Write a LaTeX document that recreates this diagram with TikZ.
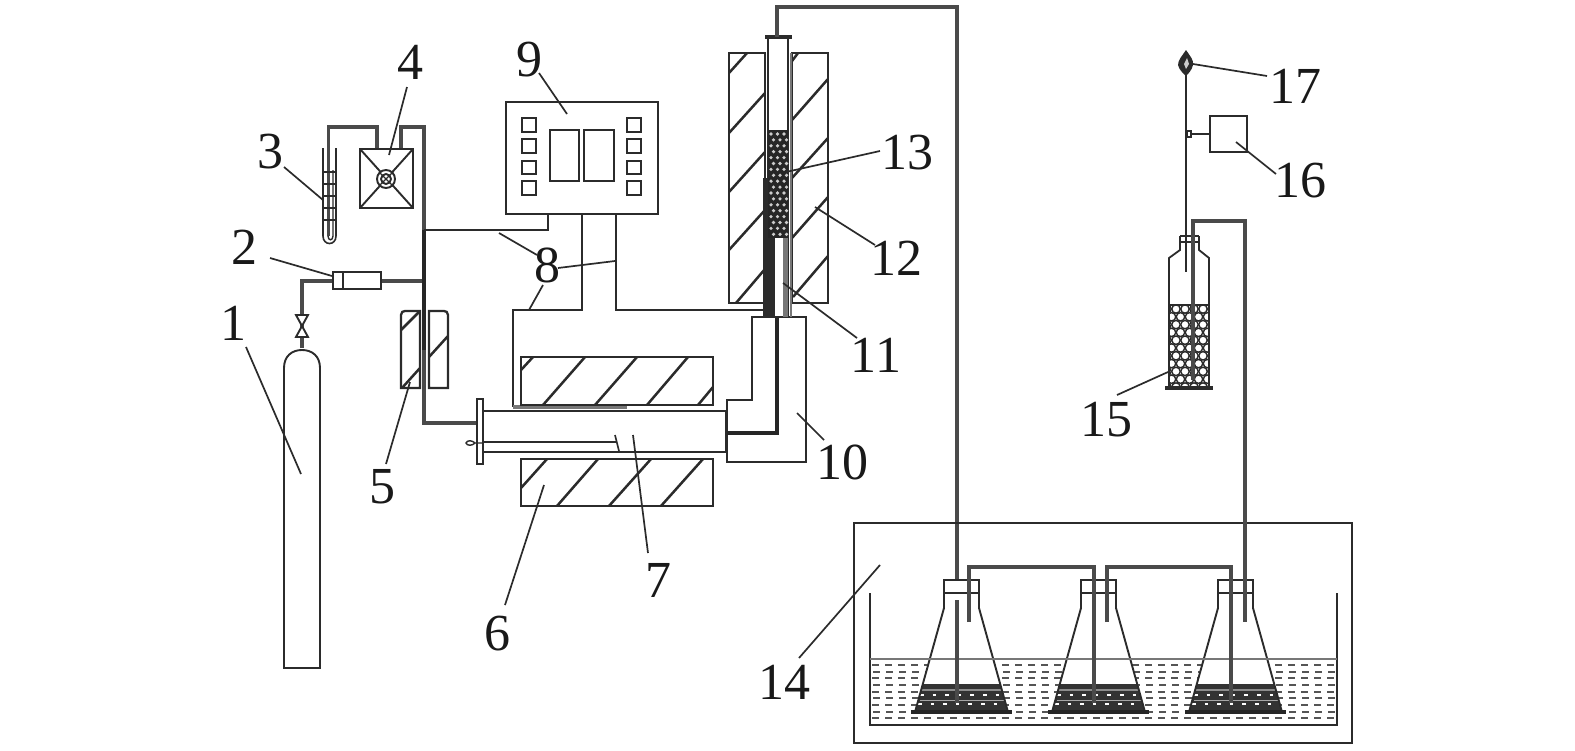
\documentclass[tikz,border=0pt]{standalone}
\usepackage{fontspec}
\setmainfont{Liberation Serif}
\definecolor{ink}{HTML}{2B2B2B}
\definecolor{pipegray}{HTML}{4A4A4A}
\definecolor{soft}{HTML}{777777}
\tikzset{
  thinl/.style={draw=ink,line width=0.95pt},
  hatch/.style={draw=ink,line width=1.25pt},
  pipe/.style={draw=pipegray,line width=2pt,line join=miter},
  blackpipe/.style={draw=black!85,line width=2.2pt},
  leader/.style={draw=ink,line width=0.85pt},
  num/.style={font=\fontsize{26}{30}\selectfont,text=black!90,inner sep=0pt}
}
\begin{document}
\begin{tikzpicture}[x=0.5pt,y=-0.5pt]
\useasboundingbox (0,0) rectangle (1575,750);
\fill[white] (0,0) rectangle (1575,750);

% --- 1 gas cylinder and valve
\draw[thinl] (284,668) -- (284,368) .. controls (284,356) and (292,350) .. (302,350)
  .. controls (312,350) and (320,356) .. (320,368) -- (320,668) -- cycle;
\draw[pipe] (302,348) -- (302,281) -- (333,281);
\draw[thinl,fill=white] (296,315) -- (308,315) -- (296,337) -- (308,337) -- cycle;
% --- 2 flow meter
\draw[pipe] (381,281) -- (424,281);
\draw[thinl,fill=white] (333,272) rectangle (381,289);
\draw[thinl] (343,272) -- (343,289);
% --- 3 thermometer
\draw[thinl,line width=0.8pt] (323,148) -- (323,236) .. controls (323,246) and (336,246) .. (336,236) -- (336,148);
\draw[pipe,line width=1.5pt] (328,236) -- (328,127);
\draw[pipe] (327,127) -- (377,127) -- (377,149);
\draw[thinl,line width=0.7pt] (328,236) .. controls (328,241) and (333,241) .. (333,236) -- (333,170);
\foreach \y in {172,184,196,208,220} \draw[thinl,line width=0.6pt] (323,\y) -- (336,\y);
% --- 4 pump
\draw[pipe] (401,149) -- (401,127) -- (424,127) -- (424,423) -- (478,423);
\draw[blackpipe] (424,230) -- (424,350);
\draw[thinl,line width=1.2pt] (360,149) rectangle (413,208);
\draw[thinl] (360,149) -- (413,208) (413,149) -- (360,208);
\draw[thinl,fill=white] (386,179) circle (9);
\draw[thinl] (386,179) circle (5);
\draw[thinl,line width=0.7pt] (379,172) -- (393,186) (393,172) -- (379,186);
% --- 5 preheater
\draw[thinl,line width=1.15pt] (401,388) -- (401,315) .. controls (401,312) and (403,311) .. (405,311) -- (420,311) -- (420,388) -- cycle;
\draw[thinl,line width=1.15pt] (429,388) -- (429,311) -- (444,311) .. controls (446,311) and (448,312) .. (448,315) -- (448,388) -- cycle;
\draw[hatch] (401,330) -- (419,312) (402,388) -- (420,368) (429,357) -- (448,336);
% --- 9 controller
\draw[thinl,line width=1.15pt] (506,102) rectangle (658,214);
\foreach \y/\z in {118/132,139/153,161/174,181/195}{
  \draw[thinl,line width=1.2pt] (522,\y) rectangle (536,\z);
  \draw[thinl,line width=1.2pt] (627,\y) rectangle (641,\z);
}
\draw[thinl] (550,130) rectangle (579,181);
\draw[thinl] (584,130) rectangle (614,181);
% --- wires
\draw[thinl] (424,230) -- (548,230) -- (548,214);
\draw[thinl] (582,214) -- (582,310) -- (513,310) -- (513,407);
\draw[thinl] (616,214) -- (616,310) -- (767,310);
\draw[draw=soft,line width=1.7pt] (513,407) -- (627,407);
% --- 6 furnace
\draw[thinl,line width=1.2pt] (521,357) rectangle (713,405);
\draw[hatch] (521,370) -- (533,357) (543,405) -- (585,357) (595,405) -- (637,357) (647,405) -- (688,357) (698,405) -- (713,387);
\draw[thinl,line width=1.2pt] (521,459) rectangle (713,506);
\draw[hatch] (521,488) -- (547,459) (557,506) -- (598,459) (609,506) -- (651,459) (661,506) -- (703,459);
% --- 10 box
\draw[thinl] (752,317) -- (806,317) -- (806,462) -- (727,462) -- (727,400) -- (752,400) -- cycle;
% --- reactor tube
\draw[thinl,fill=white] (483,411) -- (726,411) -- (726,452) -- (483,452);
\draw[thinl,line width=1.5pt] (726,411) -- (726,452);
\draw[thinl,fill=white] (477,399) rectangle (483,464);
\draw[thinl,line width=0.8pt] (483,442) -- (617,442);
\draw[thinl,line width=0.7pt] (475,443) .. controls (472,440) and (467,440) .. (466,443) .. controls (467,446) and (472,446) .. (475,443) -- (483,443);
\draw[thinl,line width=0.8pt] (615,435) -- (619,451);
% --- 11 12 13 upper furnace and tube
\draw[blackpipe] (727,433) -- (777,433) -- (777,316);
\draw[thinl,line width=1.2pt] (729,53) rectangle (765,303);
\draw[thinl,line width=1.2pt] (792,53) rectangle (828,303);
\draw[hatch] (729,73) -- (747,53) (729,133) -- (765,93) (729,192) -- (765,152) (729,250) -- (765,210) (736,303) -- (765,269);
\draw[hatch] (792,61) -- (798,53) (792,120) -- (828,79) (792,178) -- (828,138) (792,238) -- (828,197) (793,297) -- (828,256);
\draw[thinl,fill=white] (768,37) rectangle (788,317);
\draw[draw=soft,line width=1.3pt] (791,53) -- (791,317);
\fill[ink] (763,178) rectangle (768,317);
\fill[ink] (768,238) rectangle (775,317);
\fill[soft] (783,238) rectangle (788,317);
\fill[black!85] (768,130) rectangle (788,238);
\foreach \i in {0,...,17}{
  \foreach \j in {0,1,2}{
    \pgfmathsetmacro{\xx}{771+\j*6.5+mod(\i,2)*2.5}
    \pgfmathsetmacro{\yy}{134+\i*5.9}
    \fill[white!80!black] (\xx,\yy) circle (1.8);
  }
}
\draw[draw=ink,line width=1.8pt] (765,37) -- (792,37);
\draw[pipe] (777,37) -- (777,7) -- (957,7) -- (957,703);

% --- 14 bath
\draw[thinl,line width=1.15pt] (854,523) rectangle (1352,743);
\foreach \y/\ph in {665/0,672/6,678/0,685/6,692/0,698/6,705/0,712/6,718/0}{
  \draw[draw=ink!80,line width=1.25pt,dash pattern=on 3.7pt off 2.8pt,dash phase=\ph] (872,\y) -- (1336,\y);
}
% flasks
\foreach \dx in {0,137,274}{
  \begin{scope}[xshift=\dx*0.5pt]
    \fill[white] (944,580) -- (979,580) -- (979,608) -- (1009,713) -- (914,713) -- (944,608) -- cycle;
    \fill[black!80] (923,684) -- (1000,684) -- (1008,711) -- (915,711) -- cycle;
    \draw[draw=white!55!black,line width=0.6pt] (921,690) -- (1002,690);
    \draw[draw=white,line width=1.1pt,dash pattern=on 1.8pt off 4.5pt] (920,695) -- (1004,695);
    \draw[draw=white,line width=1.1pt,dash pattern=on 1.8pt off 4.5pt] (918,704) -- (1006,704);
    \draw[draw=white!65!black,line width=0.5pt] (920,700) -- (1005,700);
    \draw[thinl] (944,580) -- (944,608) -- (915,712) (979,580) -- (979,608) -- (1008,712);
    \draw[thinl] (944,580) rectangle (979,593);
    \draw[draw=black!85,line width=1.8pt] (911,712) -- (1012,712);
  \end{scope}
}
\draw[thinl] (870,593) -- (870,725) -- (1337,725) -- (1337,593);
\draw[draw=soft,line width=1.1pt] (870,659) -- (1337,659);
\draw[pipe] (969,622) -- (969,567) -- (1094,567) -- (1094,703);
\draw[pipe] (1107,622) -- (1107,567) -- (1231,567) -- (1231,703);
\draw[pipe] (957,600) -- (957,703);
\draw[pipe] (1193,380) -- (1193,221) -- (1245,221) -- (1245,622);

% --- 15 scrubber bottle
\begin{scope}
  \clip (1169,305) rectangle (1209,388);
  \foreach \i in {0,...,10}{
    \foreach \j in {0,...,5}{
      \pgfmathsetmacro{\xx}{1167+\j*9+mod(\i,2)*4.5}
      \pgfmathsetmacro{\yy}{309+\i*7.8}
      \draw[thinl,line width=0.7pt] (\xx,\yy) circle (4.2);
    }
  }
\end{scope}
\draw[thinl,line width=0.9pt] (1180,236) -- (1180,250) -- (1169,258) -- (1169,388) (1199,236) -- (1199,250) -- (1209,258) -- (1209,388);
\draw[thinl,line width=0.7pt] (1180,236) -- (1199,236) (1180,242) -- (1199,242);
\draw[thinl] (1169,305) -- (1209,305);
\draw[draw=ink,line width=1.7pt] (1165,388) -- (1213,388);
\draw[pipe,line width=1.6pt] (1193,221) -- (1193,380);
% --- 17 burner and 16 box
\draw[thinl,line width=1.1pt] (1186,73) -- (1186,272);
\fill[ink] (1186,50) .. controls (1190,56) and (1194,60) .. (1193,65) .. controls (1192,70) and (1188,74) .. (1186,76)
  .. controls (1184,74) and (1179,70) .. (1178,65) .. controls (1178,60) and (1182,56) .. (1186,50) -- cycle;
\fill[white!80!black] (1187,58) -- (1189,64) -- (1186,69) -- (1184,64) -- cycle;
\draw[thinl] (1186,134) -- (1210,134);
\draw[thinl,line width=0.8pt,fill=white] (1187,131) rectangle (1191,137);
\draw[thinl,line width=1.3pt] (1210,116) rectangle (1247,152);

% --- labels
\node[num] (n1) at (233,323) {1};
\node[num] (n2) at (244,247) {2};
\node[num] (n3) at (270,152) {3};
\node[num] (n4) at (410,62) {4};
\node[num] (n5) at (382,487) {5};
\node[num] (n6) at (497,634) {6};
\node[num] (n7) at (658,580) {7};
\node[num] (n8) at (547,265) {8};
\node[num] (n9) at (529,60) {9};
\node[num] (n10) at (842,462) {10};
\node[num] (n11) at (876,355) {11};
\node[num] (n12) at (896,258) {12};
\node[num] (n13) at (907,153) {13};
\node[num] (n14) at (784,682) {14};
\node[num] (n15) at (1106,420) {15};
\node[num] (n16) at (1300,181) {16};
\node[num] (n17) at (1295,86) {17};

% --- leaders
\draw[leader] (246,347) -- (301,474);
\draw[leader] (270,258) -- (332,276);
\draw[leader] (284,167) -- (323,200);
\draw[leader] (407,87) -- (389,155);
\draw[leader] (386,464) -- (410,382);
\draw[leader] (505,605) -- (544,485);
\draw[leader] (633,435) -- (648,553);
\draw[leader] (499,233) -- (537,255);
\draw[leader] (558,268) -- (615,261);
\draw[leader] (529,310) -- (543,285);
\draw[leader] (539,73) -- (567,114);
\draw[leader] (797,413) -- (824,440);
\draw[leader] (783,283) -- (857,338);
\draw[leader] (815,207) -- (875,245);
\draw[leader] (880,151) -- (786,172);
\draw[leader] (880,565) -- (799,658);
\draw[leader] (1117,395) -- (1168,372);
\draw[leader] (1236,142) -- (1276,174);
\draw[leader] (1193,64) -- (1267,76);
\end{tikzpicture}
\end{document}
